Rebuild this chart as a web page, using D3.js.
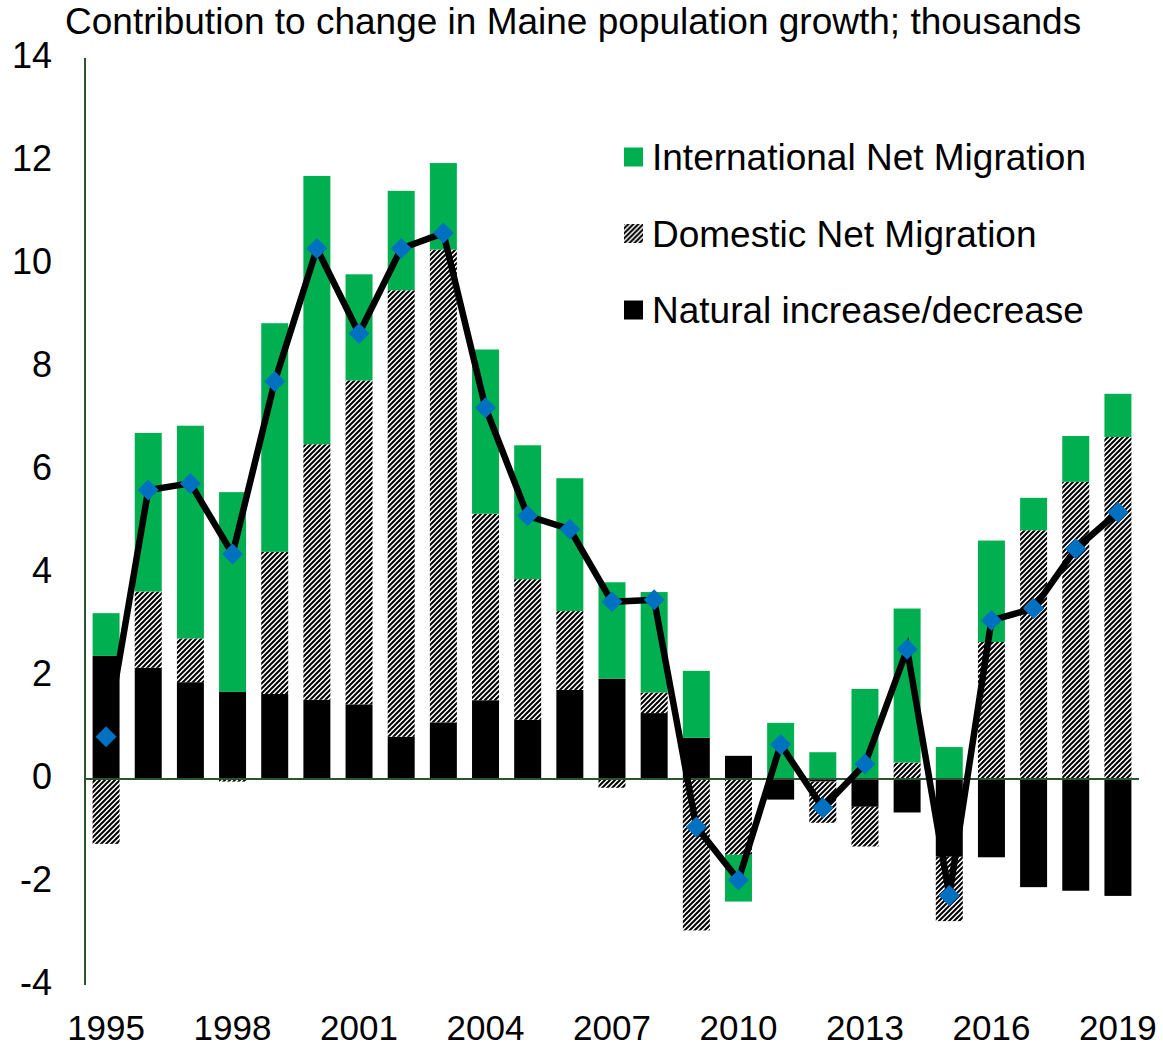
<!DOCTYPE html>
<html>
<head>
<meta charset="utf-8">
<script src="https://cdn.jsdelivr.net/npm/d3@7"></script>
<style>
  body { margin: 0; background: #fff; }
  text { font-family: "Liberation Sans", Arial, sans-serif; fill: #000; }
</style>
</head>
<body>
<div id="chart"></div>
<script>
// values, thousands of people
const years = [1995, 1996, 1997, 1998, 1999, 2000, 2001, 2002, 2003, 2004, 2005, 2006, 2007,
    2008, 2009, 2010, 2011, 2012, 2013, 2014, 2015, 2016, 2017, 2018, 2019];
const naturalIncrease = [2.39, 2.16, 1.88, 1.69, 1.65, 1.54, 1.45, 0.82, 1.10, 1.53, 1.15, 1.73, 1.95,
    1.28, 0.80, 0.45, -0.40, -0.05, -0.54, -0.65, -1.51, -1.52, -2.10, -2.17, -2.27];
const domesticMigration = [-1.26, 1.48, 0.85, -0.05, 2.76, 4.96, 6.29, 8.67, 9.18, 3.62, 2.73, 1.53, -0.17,
    0.40, -2.94, -1.47, 0.00, -0.80, -0.77, 0.32, -1.25, 2.66, 4.83, 5.77, 6.64];
const internationalMigration = [0.83, 3.08, 4.13, 3.88, 4.44, 5.21, 2.06, 1.93, 1.68, 3.19, 2.60, 2.58, 1.87,
    1.95, 1.30, -0.91, 1.09, 0.52, 1.75, 2.99, 0.62, 1.97, 0.63, 0.89, 0.84];
const totalChange = [0.82, 5.61, 5.74, 4.37, 7.72, 10.30, 8.65, 10.30, 10.60, 7.21, 5.11, 4.85, 3.44,
    3.48, -0.93, -1.96, 0.67, -0.56, 0.29, 2.52, -2.26, 3.08, 3.31, 4.47, 5.18];

const yTicks = [-4, -2, 0, 2, 4, 6, 8, 10, 12, 14];
const xTickYears = [1995, 1998, 2001, 2004, 2007, 2010, 2013, 2016, 2019];

const seriesKeys = ["natural", "domestic", "international"];
const legendItems = [
    { key: "international", label: "International Net Migration" },
    { key: "domestic", label: "Domestic Net Migration" },
    { key: "natural", label: "Natural increase/decrease" },
];

const width = 1163, height = 1048;
const plot = { left: 85, right: 1139, top: 58, bottom: 985 };

const green = "#00b050";
const axisColor = "#2d5234";
const fills = { natural: "#000", domestic: "url(#hatch)", international: green };

const rows = years.map((yr, i) => ({
    year: yr,
    natural: naturalIncrease[i],
    domestic: domesticMigration[i],
    international: internationalMigration[i],
    total: totalChange[i],
}));

const x = d3.scaleBand()
    .domain(years)
    .range([plot.left, plot.right])
    .paddingInner(0.36)
    .paddingOuter(0.18);

const y = d3.scaleLinear().domain([-4, 14]).range([plot.bottom, plot.top]);

const svg = d3.select("#chart").append("svg")
    .attr("width", width)
    .attr("height", height);

// hatch for domestic migration (wide upward diagonal)
const defs = svg.append("defs");
defs.append("pattern")
    .attr("id", "hatch")
    .attr("patternUnits", "userSpaceOnUse")
    .attr("width", 5)
    .attr("height", 5)
    .call(p => p.append("rect").attr("width", 5).attr("height", 5).attr("fill", "#fff"))
    .append("path")
    .attr("d", "M-1.25,1.25 l2.5,-2.5 M0,5 l5,-5 M3.75,6.25 l2.5,-2.5")
    .attr("stroke", "#000")
    .attr("stroke-width", 2);

// title
svg.append("text")
    .attr("x", 65)
    .attr("y", 34)
    .style("font-size", "37px")
    .text("Contribution to change in Maine population growth; thousands");

// stacked bars
const stacked = d3.stack()
    .keys(seriesKeys)
    .offset(d3.stackOffsetDiverging)(rows);

svg.append("g")
    .selectAll("g")
    .data(stacked)
    .join("g")
    .attr("fill", d => fills[d.key])
    .selectAll("rect")
    .data(d => d)
    .join("rect")
    .attr("x", d => x(d.data.year))
    .attr("width", x.bandwidth())
    .attr("y", d => y(Math.max(d[0], d[1])))
    .attr("height", d => Math.abs(y(d[0]) - y(d[1])));

// axes lines
svg.append("line")
    .attr("x1", plot.left).attr("x2", plot.left)
    .attr("y1", y(14)).attr("y2", y(-4))
    .attr("stroke", axisColor)
    .attr("stroke-width", 2);

svg.append("line")
    .attr("x1", plot.left).attr("x2", plot.right)
    .attr("y1", y(0)).attr("y2", y(0))
    .attr("stroke", axisColor)
    .attr("stroke-width", 2);

// y tick labels
svg.append("g")
    .selectAll("text")
    .data(yTicks)
    .join("text")
    .attr("x", 52)
    .attr("y", d => y(d) + 10)
    .attr("text-anchor", "end")
    .style("font-size", "36px")
    .text(d => d);

// x tick labels
svg.append("g")
    .selectAll("text")
    .data(xTickYears)
    .join("text")
    .attr("x", d => x(d) + x.bandwidth() / 2)
    .attr("y", 1040)
    .attr("text-anchor", "middle")
    .style("font-size", "35px")
    .text(d => d);

// total change line
const line = d3.line()
    .x(d => x(d.year) + x.bandwidth() / 2)
    .y(d => y(d.total));

svg.append("path")
    .datum(rows)
    .attr("d", line)
    .attr("fill", "none")
    .attr("stroke", "#000")
    .attr("stroke-width", 6.5)
    .attr("stroke-linejoin", "miter");

svg.append("g")
    .selectAll("path")
    .data(rows)
    .join("path")
    .attr("d", d3.symbol(d3.symbolSquare, 220))
    .attr("transform", d => `translate(${x(d.year) + x.bandwidth() / 2},${y(d.total)}) rotate(45)`)
    .attr("fill", "#0070c0");

// legend
const legend = svg.append("g").attr("transform", "translate(624,157)");
legendItems.forEach((item, i) => {
    const row = legend.append("g").attr("transform", `translate(0,${i * 76.5})`);
    row.append("rect")
        .attr("x", 0).attr("y", -9.5)
        .attr("width", 19).attr("height", 19)
        .attr("fill", fills[item.key]);
    row.append("text")
        .attr("x", 28)
        .attr("y", 13)
        .style("font-size", "37px")
        .text(item.label);
});
</script>
</body>
</html>
